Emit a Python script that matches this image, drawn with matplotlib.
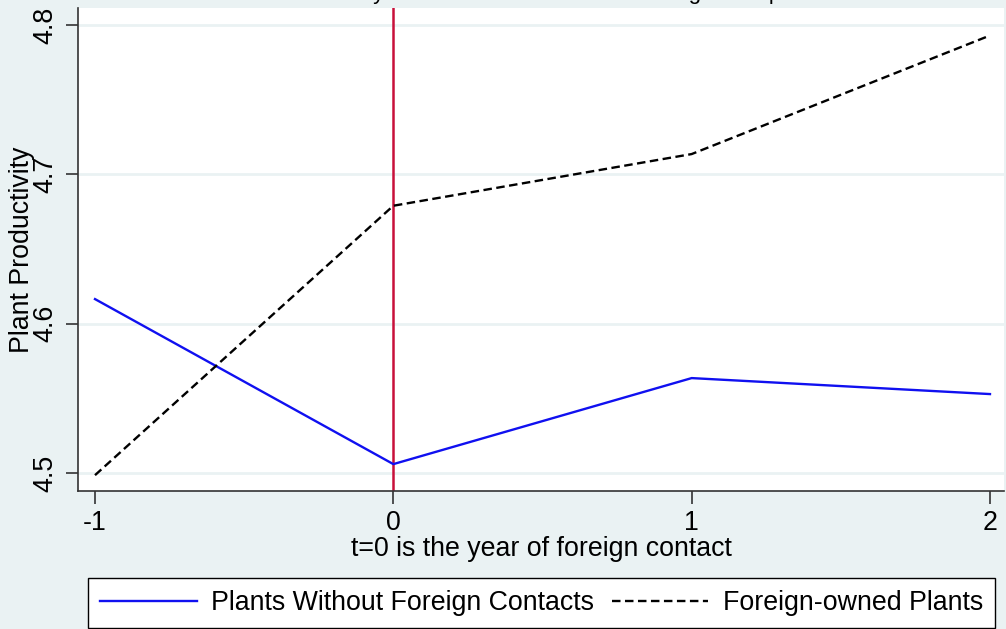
import matplotlib.pyplot as plt

# Event-time years around foreign contact
years = [-1, 0, 1, 2]
tick_labels = ["-1", "0", "1", "2"]

# Mean plant productivity by group
no_contact = [4.6165, 4.506, 4.5636, 4.5529]
foreign_owned = [4.4986, 4.679, 4.7136, 4.793]

yticks = [4.5, 4.6, 4.7, 4.8]

bg = "#EAF2F3"
fs = 19.3
plt.rcParams["font.family"] = ["Liberation Sans", "DejaVu Sans"]

fig = plt.figure(figsize=(10.06, 6.29), dpi=100, facecolor=bg)
ax = fig.add_axes([78 / 1006, 1 - 491 / 629, (1004 - 78) / 1006, (491 - 8) / 629])
ax.set_facecolor("white")

for yv in yticks:
    ax.axhline(yv, color=bg, lw=2, zorder=0)

ax.axvline(0, color="#C8103A", lw=1.8, zorder=1)
l1, = ax.plot(years, no_contact, color="#1010F0", lw=1.7, zorder=2)
l2, = ax.plot(years, foreign_owned, color="black", lw=1.7, ls=(0, (3.6, 1.9)), zorder=2)

ax.set_xlim(-1.057, 2.047)
ax.set_ylim(4.488, 4.8114)
ax.set_xticks(years)
ax.set_xticklabels(tick_labels)
ax.set_yticks(yticks)
ax.set_yticklabels([str(v) for v in yticks], rotation=90, va="center")

for side in ["top", "right"]:
    ax.spines[side].set_visible(False)
for side in ["left", "bottom"]:
    ax.spines[side].set_color("#333333")
    ax.spines[side].set_linewidth(1.2)

ax.tick_params(axis="both", direction="out", length=9, width=1.2, color="#333333",
               labelsize=fs, pad=5)

ax.set_xlabel("t=0 is the year of foreign contact", fontsize=fs, labelpad=0)
ax.set_ylabel("Plant Productivity", fontsize=fs, labelpad=-2)

# title sits mostly above the canvas
fig.text(0.528, 1 + 1.5 / 629, "Productivity and Year of Contact with Foreign Groups",
         ha="center", va="baseline", fontsize=16)

leg = fig.legend([l1, l2], ["Plants Without Foreign Contacts", "Foreign-owned Plants"],
                 loc="upper left", bbox_to_anchor=(88 / 1006, 1 - 578 / 629),
                 borderaxespad=0, ncol=2, fontsize=fs, frameon=True, fancybox=False,
                 handlelength=3.6, handletextpad=0.55, columnspacing=0.65, borderpad=0.45)
leg.get_frame().set_edgecolor("black")
leg.get_frame().set_linewidth(1.0)
leg.get_frame().set_facecolor("white")
leg.get_frame().set_alpha(1)

fig.savefig("out.png", dpi=100, facecolor=bg)
